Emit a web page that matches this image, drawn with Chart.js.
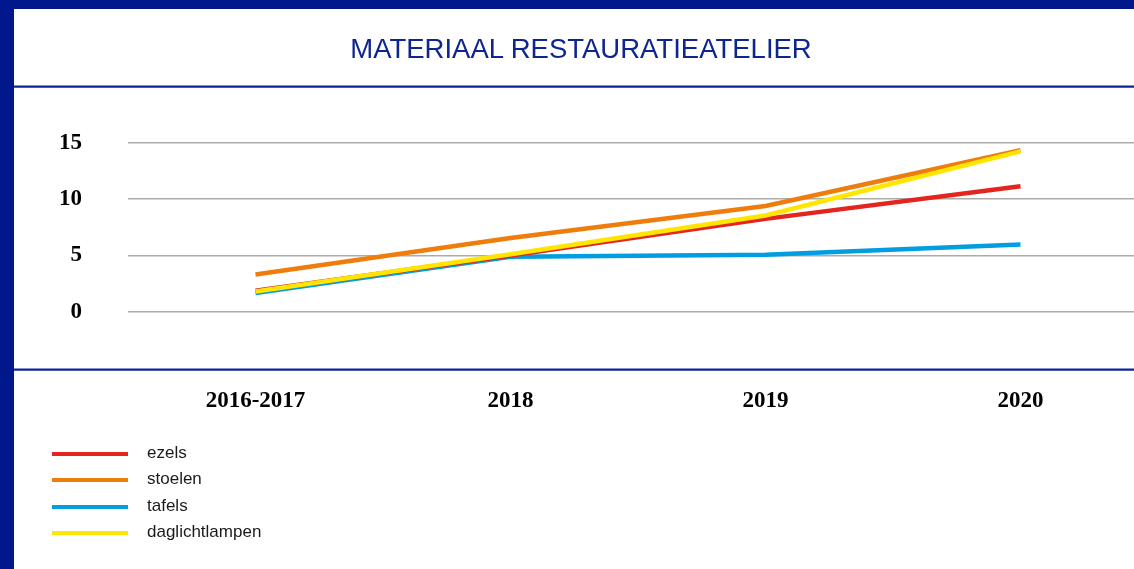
<!DOCTYPE html>
<html>
<head>
<meta charset="utf-8">
<script src="https://cdn.jsdelivr.net/npm/chart.js@4/dist/chart.umd.min.js"></script>
<style>
  html, body { margin: 0; padding: 0; width: 1134px; height: 569px; overflow: hidden; background: #00188c; }
  #panel { position: absolute; left: 14px; top: 9px; width: 1120px; height: 560px; background: #ffffff; }
  #wrap { position: absolute; left: 0; top: 0; width: 1150px; height: 569px; }
  #title { position: absolute; left: 0; top: 35px; width: 1162px; text-align: center;
           font-family: "Liberation Sans", Arial, sans-serif; font-size: 27.5px; line-height: 27px;
           color: #0d2590; letter-spacing: 0px; }
  #legend { position: absolute; left: 52px; top: 441px; font-family: "Liberation Sans", Arial, sans-serif;
            font-size: 17px; color: #1a1a1a; }
  .item { position: relative; height: 26.4px; }
  .sw { position: absolute; left: 0; top: 11px; width: 76px; height: 4px; }
  .lb { position: absolute; left: 95px; top: 2px; line-height: 20px; white-space: nowrap; }
</style>
</head>
<body>
<div id="panel"></div>
<div id="wrap"><canvas id="c" width="1150" height="569"></canvas></div>
<div id="title"></div>
<div id="legend"></div>
<script>
const chartTitle = "MATERIAAL RESTAURATIEATELIER";
const categories = ["2016-2017", "2018", "2019", "2020"];
const seriesNames = ["ezels", "stoelen", "tafels", "daglichtlampen"];
const ezels = [1.85, 5.0, 8.25, 11.15];
const stoelen = [3.3, 6.55, 9.4, 14.35];
const tafels = [1.65, 4.88, 5.05, 5.97];
const daglichtlampen = [1.8, 5.1, 8.55, 14.25];
const seriesColors = ["#e3251e", "#ef7d0b", "#009ee0", "#ffe500"];
const drawOrder = [2, 1, 3, 0];
const yTickValues = [0, 5, 10, 15];

document.getElementById('title').textContent = chartTitle;

const seriesData = [ezels, stoelen, tafels, daglichtlampen];
const legendEl = document.getElementById('legend');
seriesNames.forEach((n, i) => {
  const it = document.createElement('div'); it.className = 'item';
  const sw = document.createElement('div'); sw.className = 'sw'; sw.style.background = seriesColors[i];
  const lb = document.createElement('div'); lb.className = 'lb'; lb.textContent = n;
  it.appendChild(sw); it.appendChild(lb); legendEl.appendChild(it);
});

const framePlugin = {
  id: 'frameLines',
  beforeDraw(chart) {
    const { ctx, chartArea } = chart;
    ctx.save();
    ctx.strokeStyle = '#0c2499';
    ctx.lineWidth = 2.3;
    ctx.beginPath();
    ctx.moveTo(14, chartArea.top);
    ctx.lineTo(chart.width, chartArea.top);
    ctx.moveTo(14, chartArea.bottom + 1.7);
    ctx.lineTo(chart.width, chartArea.bottom + 1.7);
    ctx.stroke();
    ctx.restore();
  }
};

new Chart(document.getElementById('c'), {
  type: 'line',
  data: {
    labels: categories,
    datasets: seriesNames.map((n, i) => ({
      label: n,
      data: seriesData[i],
      borderColor: seriesColors[i],
      backgroundColor: seriesColors[i],
      borderWidth: 4.5,
      pointRadius: 0,
      pointHoverRadius: 0,
      tension: 0,
      fill: false,
      order: drawOrder[i]
    }))
  },
  options: {
    responsive: false,
    animation: false,
    events: [],
    layout: { padding: { top: 86.7, left: 0, right: 2, bottom: 135.5 } },
    plugins: { legend: { display: false }, title: { display: false }, tooltip: { enabled: false } },
    scales: {
      x: {
        offset: true,
        grid: { display: false, drawTicks: false },
        border: { display: false },
        ticks: {
          color: '#000000', padding: 19, maxRotation: 0,
          font: { family: '"Liberation Serif", "Times New Roman", serif', size: 23, weight: 'bold' }
        }
      },
      y: {
        min: -5, max: 20,
        afterFit(scale) { scale.width = 128; },
        afterBuildTicks(scale) {
          scale.ticks = [-5].concat(yTickValues, [20]).map(v => ({ value: v }));
        },
        grid: {
          drawTicks: false,
          lineWidth: 1.5,
          color: (c) => (c.tick && yTickValues.includes(c.tick.value)) ? '#ababab' : 'rgba(0,0,0,0)'
        },
        border: { display: false },
        ticks: {
          color: '#000000', padding: 46,
          font: { family: '"Liberation Serif", "Times New Roman", serif', size: 23, weight: 'bold' },
          callback: (v) => yTickValues.includes(v) ? String(v) : ''
        }
      }
    }
  },
  plugins: [framePlugin]
});
</script>
</body>
</html>
